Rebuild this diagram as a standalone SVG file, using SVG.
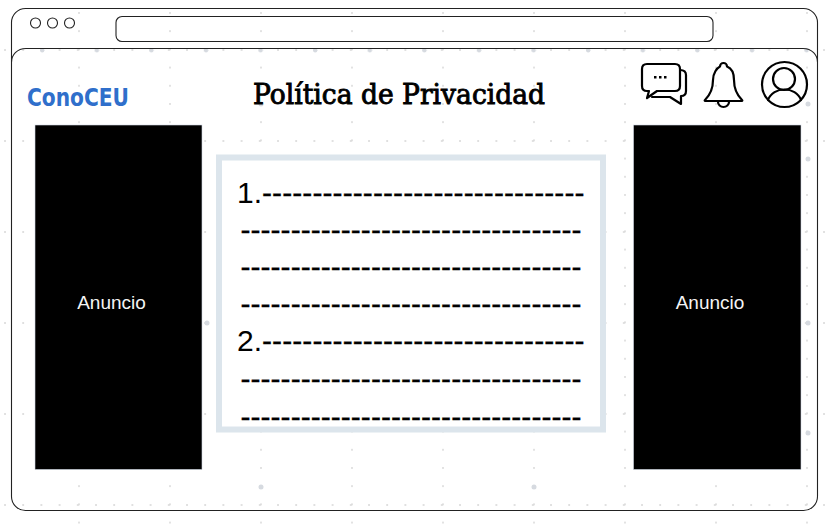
<svg xmlns="http://www.w3.org/2000/svg" width="827" height="525" viewBox="0 0 827 525">
<style>
.ln{fill:none;stroke:#222;stroke-width:1.1}
.ic{fill:none;stroke:#000;stroke-width:2.200;stroke-linejoin:round;stroke-linecap:round}
.ad{fill:#000;stroke:#cfd8e3;stroke-width:.6}
.ad-t{font:19px "Liberation Sans",Arial,sans-serif;fill:#f4f4f4;text-anchor:middle}
.body{font:30px "Liberation Sans",Arial,sans-serif;fill:#000}
.dash{stroke:#000;stroke-width:.3}
.logo{font:700 24px "DejaVu Sans",sans-serif;fill:#2f6fcb}
.ttl{font:400 27px "DejaVu Serif",serif;fill:#000;stroke:#000;stroke-width:.9}
</style>
<defs>
<pattern id="gv" x="78" y="12" width="91" height="18.2" patternUnits="userSpaceOnUse"><circle cx="1" cy="1" r="1" fill="#d8d8d8"/></pattern>
<pattern id="gh" x="4" y="49" width="18.2" height="91" patternUnits="userSpaceOnUse"><circle cx="1" cy="1" r="1" fill="#d8d8d8"/></pattern>
<pattern id="gb" x="40" y="48" width="54.6" height="91" patternUnits="userSpaceOnUse"><circle cx="2.2" cy="2.2" r="2.2" fill="#d6dae0"/></pattern>
</defs>
<rect width="827" height="525" fill="#fff"/>
<rect width="827" height="525" fill="url(#gv)"/>
<rect width="827" height="525" fill="url(#gh)"/>
<rect x="0" y="46" width="827" height="8" fill="url(#gb)"/>
<g id="grid-dots" fill="#d6dae0"><circle cx="207" cy="323" r="2.500"/><circle cx="261" cy="487" r="2.500"/><circle cx="534" cy="487" r="2.500"/><circle cx="808" cy="323" r="2.500"/><circle cx="808" cy="104" r="2.500"/><circle cx="808" cy="159" r="2.500"/><circle cx="808" cy="433" r="2.500"/><circle cx="261" cy="104" r="2.500"/></g>
<g id="window"><rect class="ln" x="11.500" y="8.500" width="806" height="502" rx="14"/>
<path class="ln" d="M11.500 62C11.500 55 17 48.500 26 48.500H803C812 48.500 817.500 55 817.500 62"/>
<circle class="ln" cx="35.500" cy="23" r="5"/><circle class="ln" cx="52.500" cy="23" r="5"/><circle class="ln" cx="69.500" cy="23" r="5"/>
<rect class="ln" x="116" y="16.500" width="597" height="25" rx="6"/></g>
<g id="logo"><text class="logo" x="27" y="106" textLength="102" lengthAdjust="spacingAndGlyphs">ConoCEU</text></g>
<g id="title"><text class="ttl" x="253" y="104" textLength="292" lengthAdjust="spacingAndGlyphs">Política de Privacidad</text></g>
<g id="icon-chat"><path class="ic" d="M647 64H675Q680 64 680 69V86Q680 91 675 91H657L647 98L649 91H647Q642 91 642 86V69Q642 64 647 64Z"/><path class="ic" d="M680 70Q686 70 686 75V91Q686 96 681 96L681 104L670 97H652"/><path d="M654 76h2.500v2.500h-2.500zM659 76h2.500v2.500h-2.500zM664 76h2.500v2.500h-2.500z" fill="#000"/></g>
<g id="icon-bell"><path class="ic" d="M705 100Q713 92 713 80C713 73 717 68 720 66.500A3.500 3.500 0 1 1 727 66.500C731 68 734 73 734 80Q734 92 742 100Q743 101 741 101H706Q704 101 705 100Z"/><path class="ic" d="M718 102A5.500 5 0 0 0 729 102"/></g>
<g id="icon-user"><circle class="ic" cx="784.500" cy="84.500" r="22.500"/><circle class="ic" cx="784" cy="79" r="11"/><path class="ic" d="M768 100C773 86 796 86 801 100"/></g>
<g id="ad-left"><rect class="ad" x="35" y="125" width="167" height="344.500"/><text class="ad-t" x="111.500" y="309">Anuncio</text></g>
<g id="ad-right"><rect class="ad" x="633.500" y="125" width="167.500" height="344.500"/><text class="ad-t" x="710" y="309">Anuncio</text></g>
<g id="content"><rect x="219" y="157.500" width="384" height="272" fill="#fff" stroke="#dce5ec" stroke-width="6"/>
<text class="body" x="237" y="202.500">1.<tspan class="dash" letter-spacing=".09">--------------------------------</tspan></text>
<text class="body dash" x="240.500" y="239.500" letter-spacing=".04">----------------------------------</text>
<text class="body dash" x="240.500" y="276.500" letter-spacing=".04">----------------------------------</text>
<text class="body dash" x="240.500" y="313.500" letter-spacing=".04">----------------------------------</text>
<text class="body" x="237" y="351">2.<tspan class="dash" letter-spacing=".09">--------------------------------</tspan></text>
<text class="body dash" x="240.500" y="388.500" letter-spacing=".04">----------------------------------</text>
<text class="body dash" x="240.500" y="426.500" letter-spacing=".04">----------------------------------</text></g>
</svg>
